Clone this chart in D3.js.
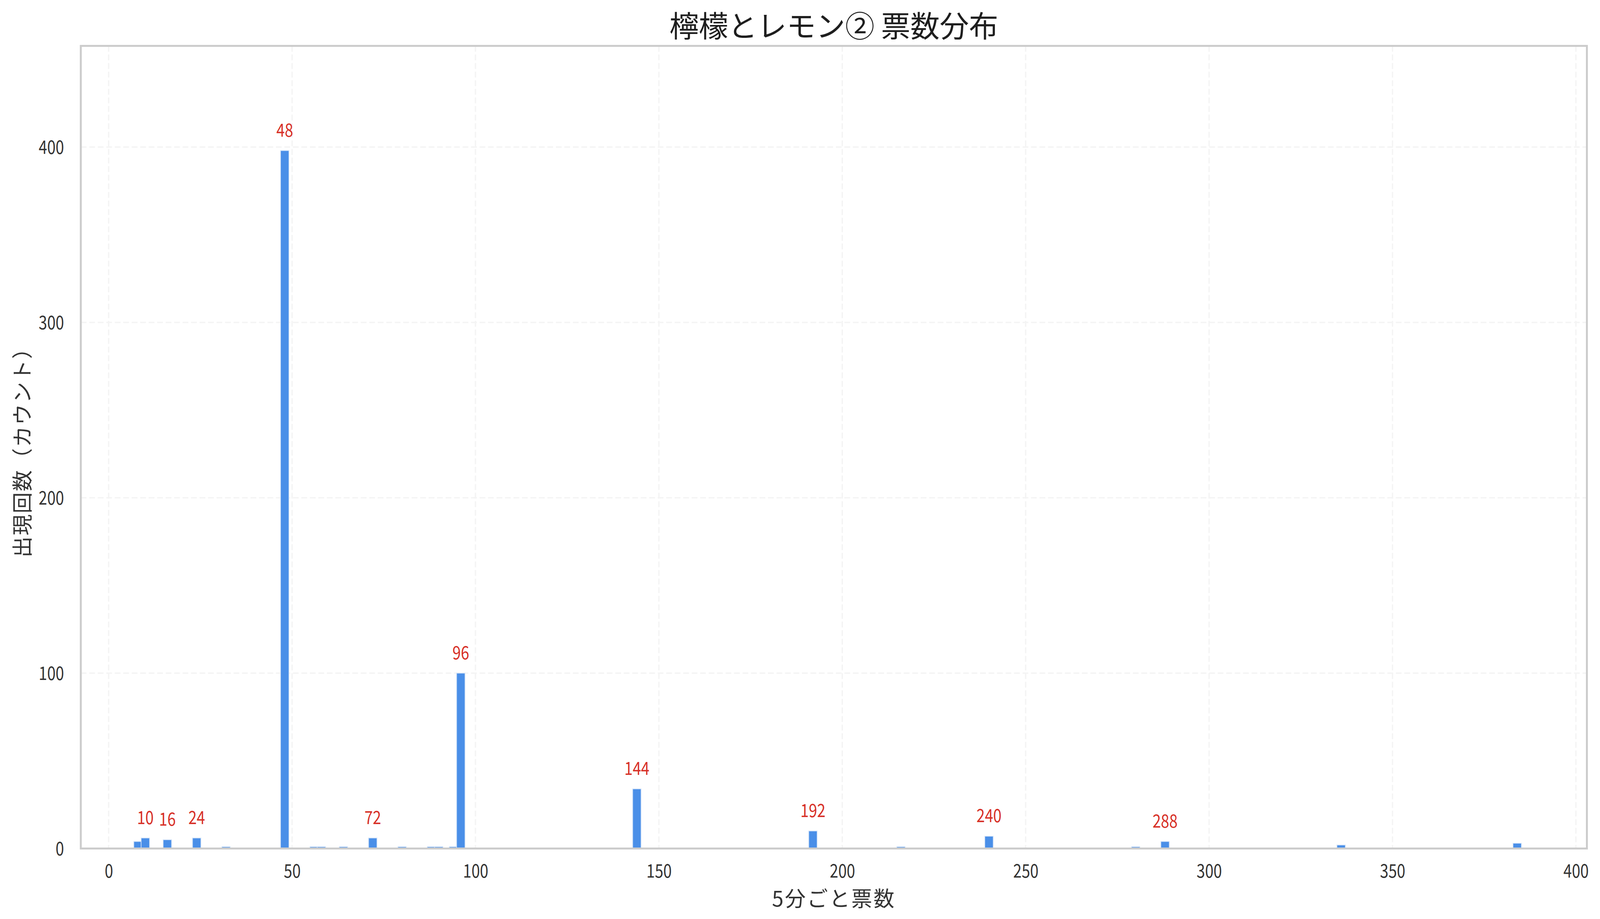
<!DOCTYPE html>
<html>
<head>
<meta charset="utf-8">
<script src="https://cdn.jsdelivr.net/npm/d3@7"></script>
<style>
  html, body { margin: 0; padding: 0; background: #ffffff; overflow: hidden; width: 100%; height: 100%; }
  svg { display: block; }
  text { font-family: "Noto Sans CJK JP", "Noto Sans", sans-serif; }
</style>
</head>
<body>
<script>
// ---- data ----
const votes  = [8, 10, 16, 24, 32, 48, 56, 58, 64, 72, 80, 88, 90, 94, 96, 144, 192, 216, 240, 280, 288, 336, 384];
const counts = [4, 6, 5, 6, 1, 398, 1, 1, 1, 6, 1, 1, 1, 1, 100, 34, 10, 1, 7, 1, 4, 2, 3];
const labeledVotes = [10, 16, 24, 48, 72, 96, 144, 192, 240, 288];
const xTicks = [0, 50, 100, 150, 200, 250, 300, 350, 400];
const yTicks = [0, 100, 200, 300, 400];
const titleText = "檸檬とレモン② 票数分布";
const xLabelText = "5分ごと票数";
const yLabelText = "出現回数（カウント）";

const W = 4149, H = 2353;
const plot = { left: 209.5, right: 4115, top: 117.5, bottom: 2172.5 };
const maxCount = d3.max(counts);
const barWidth = 2.3;
const digitSquash = 0.84;

const x = d3.scaleLinear().domain([-7.6, 403]).range([plot.left, plot.right]);
const y = d3.scaleLinear().domain([0, maxCount * 1.15]).range([plot.bottom, plot.top]);

const svg = d3.select("body").append("svg")
  .attr("viewBox", `0 0 ${W} ${H}`)
  .attr("preserveAspectRatio", "none")
  .style("width", "100vw").style("height", "100vh");
svg.append("rect").attr("width", W).attr("height", H).attr("fill", "#ffffff");

// grid
const grid = svg.append("g");
grid.selectAll("line.vg").data(xTicks).enter().append("line")
  .attr("x1", d => x(d)).attr("x2", d => x(d))
  .attr("y1", plot.top).attr("y2", plot.bottom)
  .attr("stroke", "#f4f4f4").attr("stroke-width", 3.5).attr("stroke-dasharray", "15,7");
grid.selectAll("line.hg").data(yTicks).enter().append("line")
  .attr("x1", plot.left).attr("x2", plot.right)
  .attr("y1", d => y(d)).attr("y2", d => y(d))
  .attr("stroke", "#f4f4f4").attr("stroke-width", 3.5).attr("stroke-dasharray", "15,7");

// bars
const data = votes.map((v, i) => ({ v, c: counts[i] }));
svg.append("g").selectAll("rect").data(data).enter().append("rect")
  .attr("x", d => x(d.v - barWidth / 2))
  .attr("width", d => x(d.v + barWidth / 2) - x(d.v - barWidth / 2))
  .attr("y", d => y(d.c))
  .attr("height", d => y(0) - y(d.c))
  .attr("fill", "#4a8fe8")
  .attr("stroke", "#d3e3f8")
  .attr("stroke-width", 1.8);

// annotations
svg.append("g").selectAll("text").data(data.filter(d => labeledVotes.includes(d.v))).enter().append("text")
  .attr("transform", d => `translate(${x(d.v)},${y(d.c + maxCount * 0.02)}) scale(${digitSquash},1)`)
  .attr("text-anchor", "middle")
  .attr("font-size", 46.5)
  .attr("fill", "#d73027")
  .text(d => d.v);

// spines
svg.append("rect")
  .attr("x", plot.left).attr("y", plot.top)
  .attr("width", plot.right - plot.left).attr("height", plot.bottom - plot.top)
  .attr("fill", "none").attr("stroke", "#cccccc").attr("stroke-width", 5);

// x axis tick labels
const xAxis = d3.axisBottom(x).tickValues(xTicks).tickSize(0).tickPadding(0).tickFormat(d3.format("d"));
const gx = svg.append("g").attr("transform", `translate(0,${plot.bottom})`).call(xAxis);
gx.select(".domain").remove();
gx.selectAll("text").attr("font-size", 47).attr("fill", "#333333")
  .attr("font-family", '"Noto Sans CJK JP", sans-serif')
  .attr("dy", null).attr("y", 0)
  .attr("transform", `translate(0,74) scale(${digitSquash},1)`);

// y axis tick labels
const yAxis = d3.axisLeft(y).tickValues(yTicks).tickSize(0).tickPadding(0).tickFormat(d3.format("d"));
const gy = svg.append("g").attr("transform", `translate(166,0)`).call(yAxis);
gy.select(".domain").remove();
gy.selectAll("text").attr("font-size", 47).attr("fill", "#333333")
  .attr("font-family", '"Noto Sans CJK JP", sans-serif')
  .attr("x", 0).attr("dy", "0.36em")
  .attr("transform", `scale(${digitSquash},1)`);

// title
svg.append("text")
  .attr("x", (plot.left + plot.right) / 2).attr("y", 95)
  .attr("text-anchor", "middle").attr("font-size", 76).attr("fill", "#1e1e1e")
  .text(titleText);

// axis labels
svg.append("text")
  .attr("x", (plot.left + plot.right) / 2).attr("y", 2321)
  .attr("text-anchor", "middle").attr("font-size", 54).attr("letter-spacing", 3.5)
  .attr("fill", "#333333")
  .text(xLabelText);

svg.append("text")
  .attr("transform", `translate(54,${(plot.top + plot.bottom) / 2}) rotate(-90)`)
  .attr("text-anchor", "middle").attr("dominant-baseline", "central")
  .attr("font-size", 54).attr("letter-spacing", 2.5).attr("fill", "#333333")
  .text(yLabelText);
</script>
</body>
</html>
